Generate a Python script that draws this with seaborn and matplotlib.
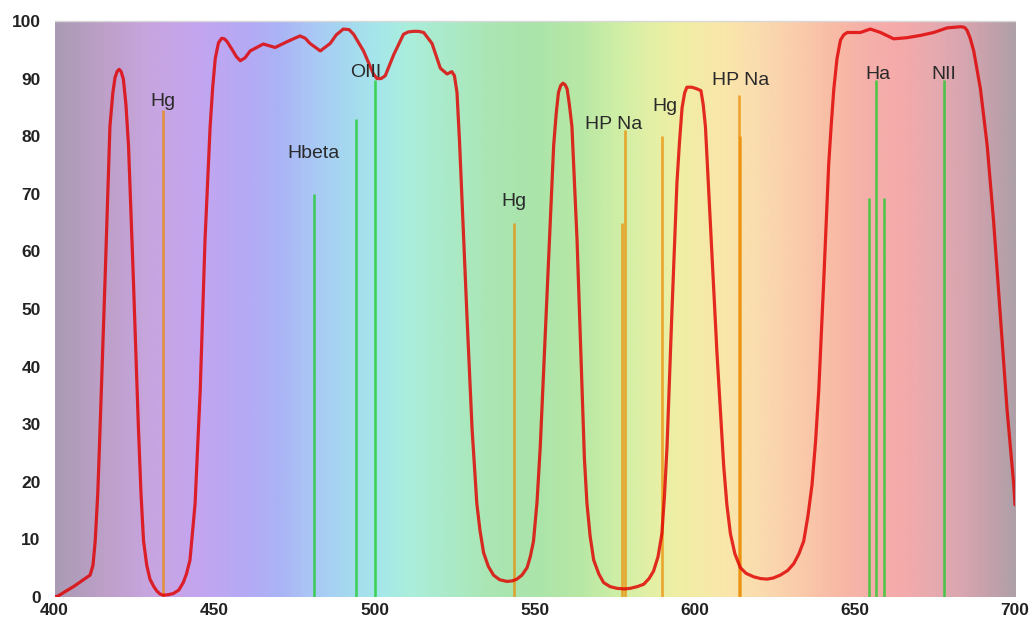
import numpy as np
import pandas as pd
import matplotlib
matplotlib.use("Agg")
import matplotlib.pyplot as plt
from matplotlib.colors import LinearSegmentedColormap
import seaborn as sns

# ---- transmission curve ----
wavelength = [400.0, 401.2, 403.5, 405.9, 408.5, 411.1, 412.0, 412.7, 413.5, 414.2,
              415.8, 417.3, 418.2, 418.9, 419.6, 420.2, 420.8, 421.5, 422.3, 423.1,
              424.6, 426.2, 427.0, 427.8, 428.8, 429.8, 431.0, 432.0, 433.0, 434.0,
              435.5, 437.1, 438.8, 440.2, 441.2, 442.3, 443.9, 445.5, 447.0, 448.6,
              449.4, 450.2, 451.2, 452.2, 453.0, 453.8, 455.5, 456.8, 458.0, 459.5,
              461.1, 465.2, 468.9, 472.6, 475.0, 476.7, 478.3, 479.8, 483.0, 486.1,
              488.0, 490.2, 492.0, 493.4, 496.5, 498.6, 499.6, 500.7, 502.0, 503.3,
              505.9, 509.0, 510.5, 512.1, 513.7, 515.3, 517.9, 520.5, 522.6, 524.1,
              524.9, 525.7, 526.5, 527.3, 528.8, 530.4, 531.9, 532.9, 534.0, 535.5,
              537.1, 539.0, 541.3, 543.0, 544.4, 546.0, 547.6, 548.6, 549.6, 550.7,
              551.7, 553.8, 555.9, 556.7, 557.4, 558.1, 558.8, 559.5, 560.1, 560.8,
              561.6, 563.2, 564.8, 565.5, 566.3, 567.3, 568.4, 570.0, 571.5, 573.5,
              575.7, 578.0, 579.8, 582.0, 584.0, 585.7, 587.1, 588.5, 589.7, 590.5,
              591.3, 592.8, 594.4, 595.2, 596.0, 596.8, 597.5, 599.1, 600.7, 601.9,
              602.6, 603.3, 604.8, 606.9, 609.0, 610.0, 611.1, 612.5, 614.2, 616.0,
              618.4, 620.5, 622.6, 624.5, 626.7, 629.0, 630.9, 632.5, 634.0, 635.3,
              636.6, 637.7, 638.7, 640.3, 641.8, 642.6, 643.4, 644.4, 645.5, 646.5,
              647.6, 651.7, 654.8, 658.0, 662.1, 666.3, 670.5, 674.6, 678.8, 683.0,
              684.2, 685.0, 686.0, 687.1, 689.2, 691.3, 693.3, 695.4, 697.5, 699.6,
              700.0]
transmission = [0.0, 0.2, 1.0, 1.8, 2.8, 3.8, 5.5, 9.7, 18.0, 29.0,
                55.5, 81.7, 87.5, 90.2, 91.3, 91.6, 91.2, 89.9, 85.5, 78.4,
                55.5, 29.3, 18.0, 9.7, 5.5, 3.1, 1.8, 1.0, 0.5, 0.3,
                0.4, 0.6, 1.2, 2.5, 4.0, 6.4, 16.2, 35.9, 62.0, 81.7,
                88.5, 93.5, 96.2, 97.0, 96.9, 96.5, 95.0, 93.8, 93.1, 93.6,
                94.8, 96.0, 95.4, 96.4, 97.0, 97.4, 97.0, 96.1, 94.8, 96.1,
                97.6, 98.6, 98.5, 97.7, 94.8, 92.1, 90.8, 90.0, 90.0, 90.5,
                94.1, 97.7, 98.1, 98.2, 98.2, 98.0, 96.1, 91.8, 90.8, 91.2,
                90.5, 87.6, 79.0, 68.6, 49.0, 29.3, 16.2, 11.5, 7.7, 5.3,
                3.8, 3.0, 2.7, 2.8, 3.1, 3.8, 5.1, 7.0, 9.7, 16.5,
                26.0, 52.2, 78.4, 84.0, 87.6, 88.8, 89.2, 88.9, 88.2, 85.5,
                81.7, 62.0, 35.9, 24.0, 16.2, 10.5, 6.4, 4.0, 2.5, 1.8,
                1.5, 1.4, 1.5, 1.8, 2.2, 3.2, 4.5, 7.0, 11.0, 17.5,
                26.0, 49.0, 71.9, 79.0, 84.9, 87.5, 88.5, 88.5, 88.2, 87.9,
                85.5, 81.7, 65.3, 42.4, 22.8, 16.0, 11.0, 7.5, 5.1, 4.1,
                3.5, 3.2, 3.1, 3.3, 3.8, 4.6, 5.8, 7.5, 9.7, 14.0,
                19.5, 27.0, 35.9, 55.5, 75.1, 82.0, 88.2, 93.5, 96.7, 97.6,
                98.0, 98.0, 98.6, 98.0, 96.9, 97.1, 97.5, 98.0, 98.8, 99.0,
                98.9, 98.4, 97.0, 94.8, 88.2, 78.4, 65.3, 49.0, 32.6, 19.5,
                16.0]

# ---- emission lines ----
orange_lines_x = [434.0, 543.6, 577.1, 578.3, 589.8, 613.9, 614.2]
orange_lines_top = [84.5, 65.0, 65.0, 81.0, 80.0, 87.2, 80.0]
green_lines_x = [481.0, 494.2, 500.2, 654.3, 656.7, 659.0, 677.7]
green_lines_top = [70.0, 83.0, 89.7, 69.2, 89.7, 69.2, 89.7]

# ---- labels ----
label_text = ["Hg", "Hbeta", "OIII", "Hg", "HP Na", "Hg", "HP Na", "Ha", "NII"]
label_x = [434.0, 481.0, 497.3, 543.6, 574.6, 590.5, 614.3, 657.2, 677.9]
label_y = [85.3, 76.2, 90.2, 67.9, 81.2, 84.4, 88.9, 90.0, 90.0]

x_ticks = [400, 450, 500, 550, 600, 650, 700]
y_ticks = [0, 10, 20, 30, 40, 50, 60, 70, 80, 90, 100]

# ---- spectrum background colours ----
bg_pos = [400, 415, 430, 445, 460, 470, 480, 490, 500, 510, 520, 535, 550, 565,
          575, 585, 595, 610, 620, 635, 645, 655, 665, 675, 685, 695, 700]
bg_rgb = [(170, 155, 180), (190, 160, 200), (200, 165, 225), (195, 165, 240),
          (180, 170, 245), (170, 180, 245), (170, 200, 245), (165, 215, 240),
          (165, 230, 235), (170, 238, 220), (170, 235, 205), (170, 230, 180),
          (170, 228, 170), (185, 232, 165), (205, 238, 165), (225, 240, 165),
          (240, 238, 165), (250, 230, 170), (250, 220, 175), (250, 200, 170),
          (248, 185, 165), (245, 175, 170), (245, 170, 170), (230, 170, 175),
          (215, 165, 175), (190, 160, 170), (175, 160, 168)]

sns.set_theme(style="white")
plt.rcParams["font.family"] = ["Liberation Sans", "DejaVu Sans"]

fig = plt.figure(figsize=(10.35, 6.3), dpi=100)
ax = fig.add_axes([0.0527, 0.0524, 0.928, 0.9143])

# background gradient
nodes = [(p - 400) / 300 for p in bg_pos]
cmap = LinearSegmentedColormap.from_list(
    "spec", list(zip(nodes, [tuple(c / 255 for c in rgb) for rgb in bg_rgb])))
grad = np.linspace(0, 1, 600).reshape(1, -1)
ax.imshow(grad, cmap=cmap, aspect="auto", extent=[400, 700, 0, 100],
          origin="lower", zorder=0, interpolation="bilinear")

# emission lines
ax.vlines(orange_lines_x, 0, orange_lines_top, colors="#ec8a00", alpha=0.72,
          linewidth=1.9, zorder=2)
ax.vlines(green_lines_x, 0, green_lines_top, colors="#1ccc2a", alpha=0.75,
          linewidth=1.9, zorder=2)

# transmission curve
df = pd.DataFrame({"wl": wavelength, "T": transmission})
sns.lineplot(data=df, x="wl", y="T", ax=ax, color="#e00000", alpha=0.82,
             linewidth=2.3, zorder=3, sort=False, estimator=None,
             solid_joinstyle="round", solid_capstyle="round")

for t, x, y in zip(label_text, label_x, label_y):
    ax.text(x, y, t, ha="center", va="baseline", fontsize=14, color="#2a2a2a",
            family=["Liberation Sans Narrow", "Liberation Sans", "DejaVu Sans"],
            zorder=4)

ax.set_xlim(400, 700)
ax.set_ylim(0, 100)
ax.set_xticks(x_ticks)
ax.set_yticks(y_ticks)
ax.set_xticklabels([str(v) for v in x_ticks], fontweight="bold", fontsize=12.5,
                   color="#222222")
ax.set_yticklabels([str(v) for v in y_ticks], fontweight="bold", fontsize=12.5,
                   color="#222222")
ax.tick_params(axis="both", length=0)
ax.tick_params(axis="y", pad=10)
ax.tick_params(axis="x", pad=4)
ax.set_xlabel("")
ax.set_ylabel("")
for s in ["left", "right", "bottom"]:
    ax.spines[s].set_visible(False)
ax.spines["top"].set_color("#d8d8d8")
ax.spines["top"].set_linewidth(1.0)

fig.savefig("out.png", dpi=100)
